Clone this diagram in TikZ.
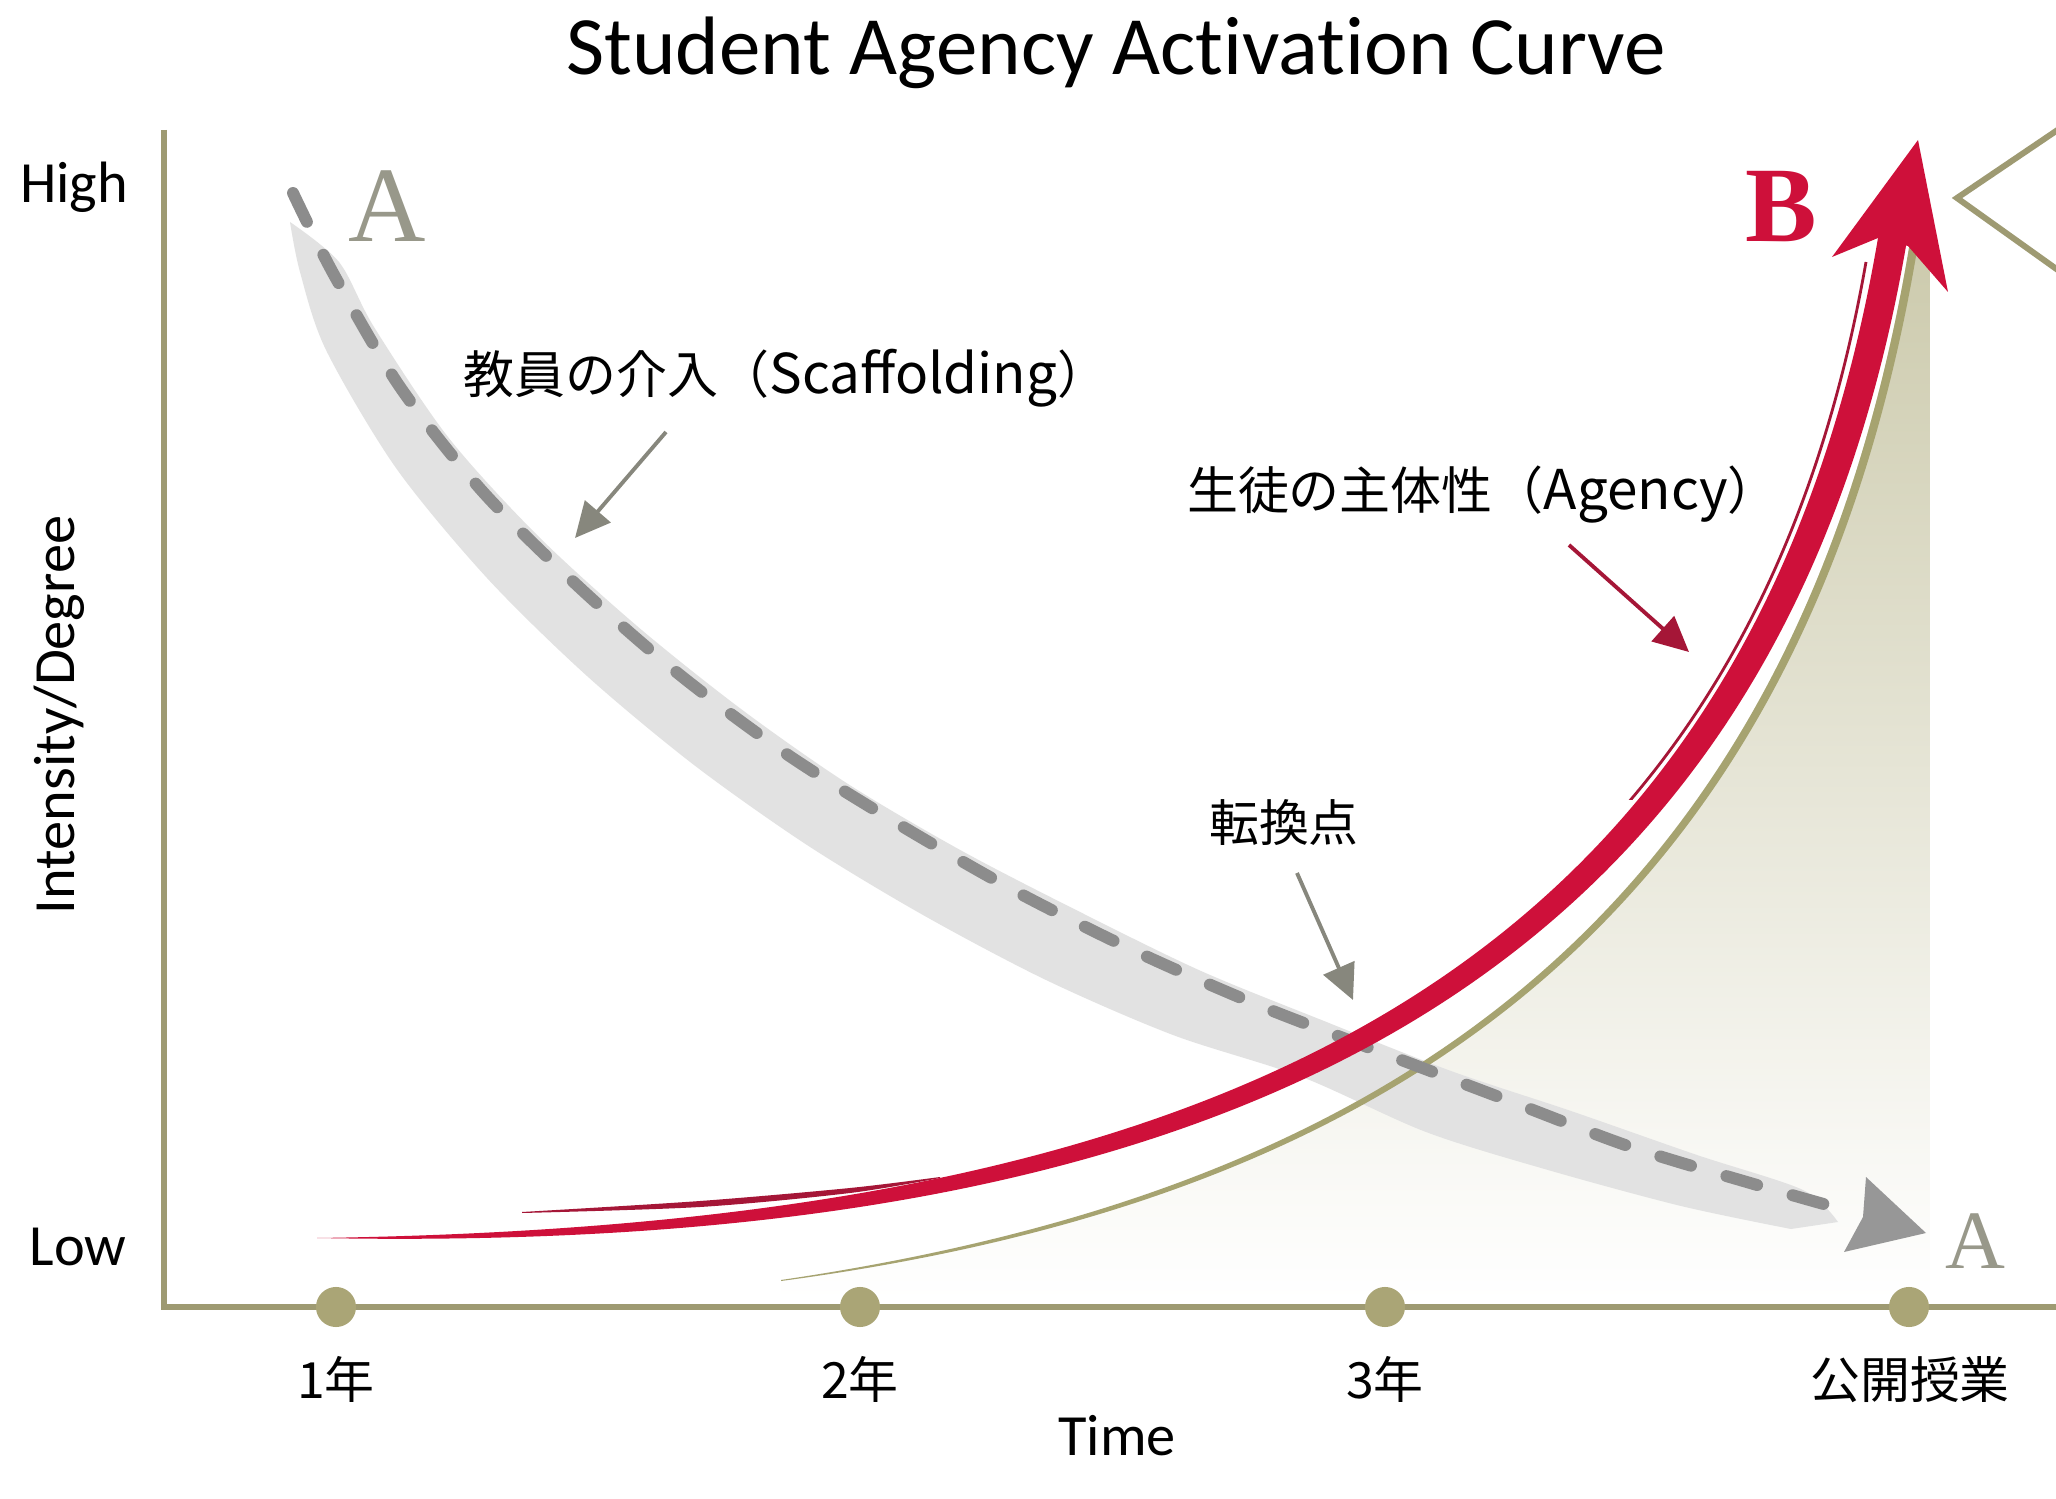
\documentclass[tikz,border=0pt]{standalone}
\usepackage{fontspec}
\setmainfont{Carlito}[Ligatures={NoCommon}]
\newfontfamily\jpfont{Noto Sans CJK JP}
\newfontfamily\letterfont{Liberation Serif}
\usetikzlibrary{arrows.meta}

\definecolor{axisolive}{RGB}{158,154,114}
\definecolor{dotolive}{RGB}{170,165,118}
\definecolor{curveolive}{RGB}{166,163,112}
\definecolor{fillolive}{RGB}{204,202,172}
\definecolor{agencyred}{RGB}{206,16,58}
\definecolor{agencydark}{RGB}{165,22,55}
\definecolor{scafgray}{RGB}{140,140,140}
\definecolor{bandgray}{RGB}{226,226,226}
\definecolor{lettergray}{RGB}{152,152,138}
\definecolor{pointergray}{RGB}{135,135,125}

% Latin words inside the Japanese notes
\newcommand{\latinpart}[1]{{\fontsize{15.6pt}{18pt}\selectfont #1}}

\tikzset{
  axisline/.style={axisolive, line width=1.9pt},
  tickdot/.style={circle, fill=dotolive, minimum size=11.4pt, inner sep=0pt},
  axislbl/.style={inner sep=0pt, anchor=base, font=\fontsize{16.6pt}{19pt}\selectfont},
  ticklbl/.style={inner sep=0pt, anchor=base, font=\jpfont\fontsize{14.2pt}{17pt}\selectfont},
  note/.style={inner sep=0pt, font=\jpfont\fontsize{14.5pt}{17pt}\selectfont},
  pointer/.style={pointergray, line width=1.1pt, -{Triangle[length=10pt,width=9.5pt]}},
  redpointer/.style={agencydark, line width=1.1pt, -{Triangle[length=10pt,width=9.5pt]}},
  scafdash/.style={scafgray, line width=3.4pt, line cap=round, dash pattern=on 9.1pt off 10.5pt},
  bigletter/.style={inner sep=0pt, anchor=base}
}

\begin{document}
\begin{tikzpicture}[x=0.2845pt, y=-0.2845pt]
  % canvas
  \fill[white] (0,0) rectangle (2056,1499);
  \useasboundingbox (0,0) rectangle (2056,1499);

  % title
  \node[inner sep=0pt, anchor=base, font=\fontsize{23.6pt}{27pt}\selectfont] (title) at (1116,75) {Student Agency Activation Curve};

  % shaded area under the agency curve
  \shade[top color=fillolive, bottom color=white]
    (781,1280) .. controls (1350,1196) and (1796,948) .. (1911,236)
    -- (1930,232) -- (1930,1300) -- (781,1300) -- cycle;

  % axes
  \draw[axisline] (164,130) -- (164,1307) -- (2060,1307);

  % time ticks
  \node[tickdot] (t1) at (336,1307) {};
  \node[tickdot] (t2) at (860,1307) {};
  \node[tickdot] (t3) at (1385,1307) {};
  \node[tickdot] (t4) at (1909,1307) {};
  \node[ticklbl] (l1) at (336,1398) {1年};
  \node[ticklbl] (l2) at (860,1398) {2年};
  \node[ticklbl] (l3) at (1385,1398) {3年};
  \node[ticklbl] (l4) at (1910,1398) {公開授業};

  % axis labels
  \node[axislbl] (high) at (74,203) {High};
  \node[axislbl] (low) at (78,1265) {Low};
  \node[axislbl, rotate=90] (ylab) at (74,715) {Intensity/Degree};
  \node[axislbl] (xlab) at (1117,1455) {Time};

  % right-hand chevron
  \draw[axisolive, line width=1.7pt] (2062,127) -- (1957,198) -- (2062,273);

  % scaffolding: soft brush band
  \fill[bandgray]
    plot[smooth] coordinates {(290,222) (339,262) (374,327) (448,437) (537,535) (637,626) (741,709) (848,784) (962,851) (1082,913) (1201,971) (1324,1021) (1451,1071) (1571,1111) (1697,1155) (1803,1190) (1838,1222)}
    -- plot[smooth] coordinates {(1791,1229) (1681,1206) (1548,1170) (1426,1132) (1302,1077) (1173,1035) (1046,980) (923,915) (807,845) (694,765) (587,676) (487,578) (396,468) (326,350) (300,272) (290,222)}
    -- cycle;

  % olive companion curve (tapered)
  \fill[curveolive]
    (781,1280) .. controls (1350,1196) and (1796,948) .. (1911,236)
    -- (1919,238) .. controls (1804,952) and (1350,1205) .. (781,1281) -- cycle;

  % scaffolding: dashed decay curve with its head
  \draw[scafdash] plot[smooth] coordinates {(293,193) (333,273) (400,387) (483,492) (580,588) (680,675) (788,755) (900,825) (1017,892) (1137,952) (1258,1005) (1383,1053) (1507,1100) (1631,1147) (1757,1185) (1845,1210)};
  \fill[scafgray!90] (1926,1233) -- (1866,1177) -- (1863,1217) -- (1844,1252) -- cycle;

  % agency: tapered brush stroke
  \fill[agencydark]
    plot[smooth] coordinates {(522,1212) (700,1201) (850,1188) (940,1177)}
    -- plot[smooth] coordinates {(940,1178) (850,1193) (700,1207) (522,1213)} -- cycle;
  \fill[agencyred]
    (317,1238) .. controls (1150,1226) and (1747,1024) .. (1879,232)
    -- (1907,240) .. controls (1773,1036) and (1150,1254) .. (317,1238) -- cycle;
  \begin{scope}
    \clip (1590,0) rectangle (2056,800);
    \draw[agencydark, line width=0.8pt] (317,1216) .. controls (1150,1212) and (1734,1016) .. (1866,262);
  \end{scope}
  \fill[agencyred] (1918,140) -- (1832,257) -- (1878,238) -- (1908,246) -- (1948,292) -- cycle;

  % curve letters
  \node[bigletter, text=lettergray, font=\letterfont\fontsize{30.5pt}{34pt}\selectfont] (aStart) at (387,242) {A};
  \node[bigletter, text=agencyred, font=\letterfont\bfseries\fontsize{30.5pt}{34pt}\selectfont] (bEnd) at (1781,242) {B};
  \node[bigletter, text=lettergray, font=\letterfont\fontsize{23.6pt}{27pt}\selectfont] (aEnd) at (1975,1268) {A};

  % annotations
  \node[note] (scaf) at (786,378) {教員の介入（\latinpart{Scaffolding}）};
  \node[note] (agency) at (1483,495) {生徒の主体性（\latinpart{Agency}）};
  \node[note, font=\jpfont\fontsize{14.2pt}{17pt}\selectfont] (turn) at (1284,823) {転換点};

  \coordinate (scafTail) at (666,432);
  \coordinate (scafTip) at (575,538);
  \coordinate (agencyTail) at (1569,545);
  \coordinate (agencyTip) at (1689,652);
  \coordinate (turnTail) at (1297,873);
  \coordinate (turnTip) at (1353,1000);

  \draw[pointer] (scafTail) -- (scafTip);
  \draw[redpointer] (agencyTail) -- (agencyTip);
  \draw[pointer] (turnTail) -- (turnTip);
\end{tikzpicture}
\end{document}
